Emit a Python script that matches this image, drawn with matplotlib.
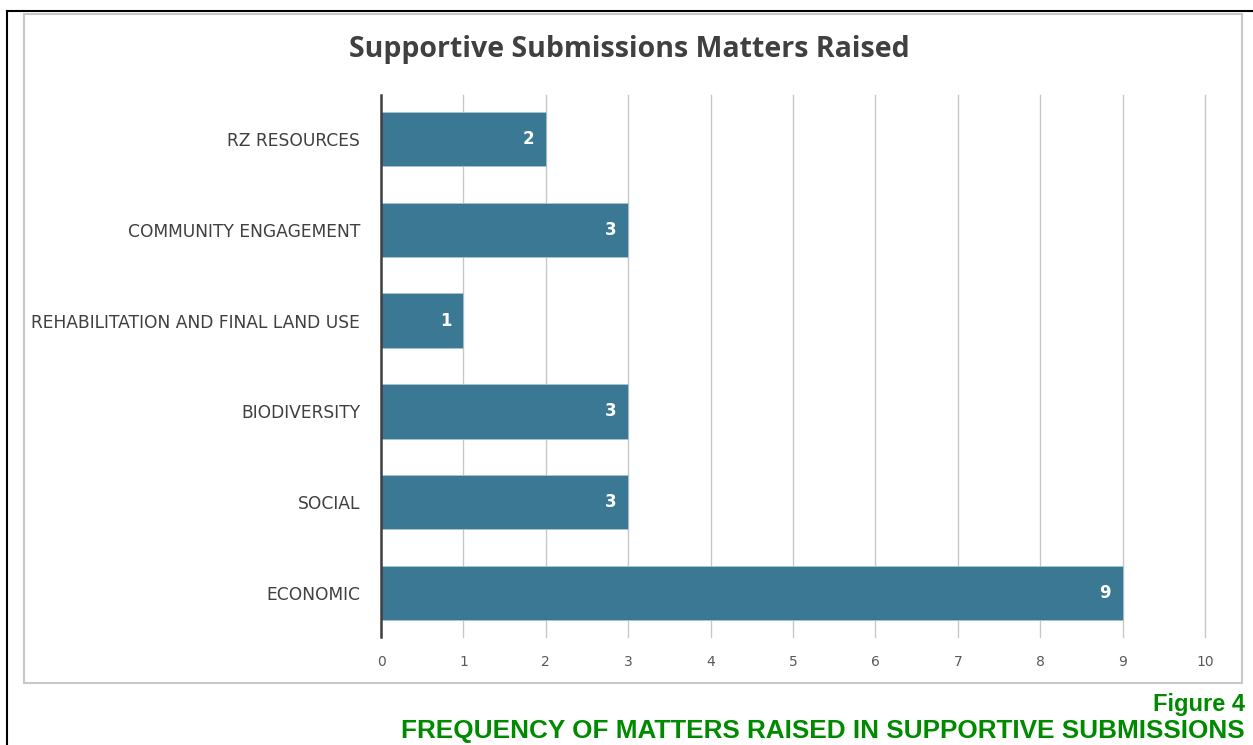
import matplotlib.pyplot as plt
from matplotlib.patches import Rectangle

categories = ["ECONOMIC", "SOCIAL", "BIODIVERSITY", "REHABILITATION AND FINAL LAND USE",
              "COMMUNITY ENGAGEMENT", "RZ RESOURCES"]
counts = [9, 3, 3, 1, 3, 2]
x_ticks = list(range(0, 11))

bar_color = "#3a7893"
text_color = "#404040"

fig = plt.figure(figsize=(12.53, 7.45), dpi=100)

# outer page border (black) and chart frame (grey)
fig.add_artist(plt.Line2D([7 / 1253, 7 / 1253], [0, 1 - 11 / 745], color="black", lw=1.5))
fig.add_artist(plt.Line2D([7 / 1253, 1], [1 - 11 / 745, 1 - 11 / 745], color="black", lw=1.5))
fig.add_artist(Rectangle((24 / 1253, 1 - 683 / 745), (1242 - 24) / 1253, (683 - 14) / 745,
                         transform=fig.transFigure, fill=False, ec="#c8c8c8", lw=1.5))

ax = fig.add_axes([381 / 1253, 1 - 637 / 745, 824 / 1253, 542 / 745])
ypos = range(len(categories))
bars = ax.barh(ypos, counts, height=0.6, color=bar_color, edgecolor="#a9c4d0", lw=0.6, zorder=2)
for b, v in zip(bars, counts):
    ax.text(v - 0.14, b.get_y() + b.get_height() / 2, str(v), ha="right", va="center",
            color="white", fontsize=12, fontweight="bold", zorder=3)

ax.set_xlim(0, 10)
ax.set_ylim(-0.485, 5.485)
ax.set_xticks(x_ticks)
ax.set_yticks(list(ypos))
ax.set_yticklabels(categories, fontsize=12.3, color=text_color)
ax.tick_params(axis="y", length=0, pad=15)
ax.tick_params(axis="x", length=0, pad=13, labelsize=10, labelcolor="#595959")
ax.grid(axis="x", color="#c8c8c8", lw=1, zorder=0)
for gl in ax.get_xgridlines():
    gl.set_clip_on(False)
for s in ["top", "right", "bottom"]:
    ax.spines[s].set_visible(False)
ax.spines["left"].set_color(text_color)
ax.spines["left"].set_linewidth(1.8)

fig.text(629 / 1253, 1 - 50 / 745, "Supportive Submissions Matters Raised", ha="center", va="center",
         fontsize=20.5, fontweight="bold", color=text_color, family="Open Sans")

fig.text(1245 / 1253, 1 - 705 / 745, "Figure 4", ha="right", va="center",
         fontsize=17, fontweight="bold", color="#008a00", family="Liberation Sans")
fig.text(1245 / 1253, 1 - 731 / 745, "FREQUENCY OF MATTERS RAISED IN SUPPORTIVE SUBMISSIONS", ha="right",
         va="center", fontsize=18.8, fontweight="bold", color="#008a00", family="Liberation Sans")

fig.savefig("out.png", dpi=100)
